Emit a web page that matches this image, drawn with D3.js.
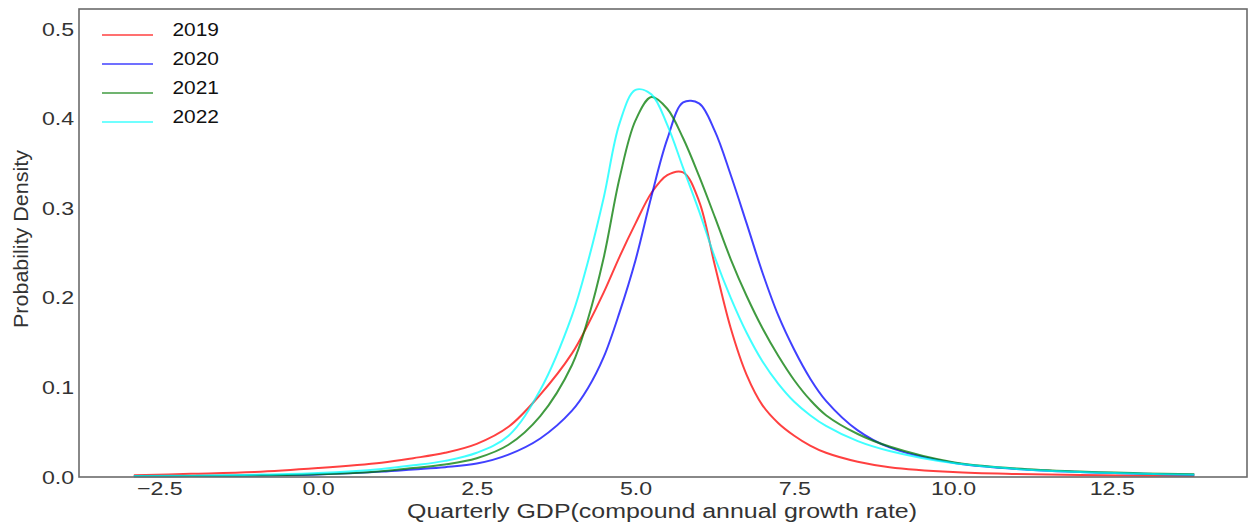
<!DOCTYPE html>
<html>
<head>
<meta charset="utf-8">
<script src="https://cdn.jsdelivr.net/npm/d3@7"></script>
<style>
	body { margin: 0; background: #fff; }
	svg { display: block; font-family: "Liberation Sans", Arial, sans-serif; }
</style>
</head>
<body>
<script>
//growth rate grid (x values)
const xGrid = [-2.9, -2, -1, 0, 1, 1.5, 2, 2.5, 3, 3.5, 4, 4.25, 4.5, 4.75, 5, 5.25, 5.5, 5.75, 6, 6.25, 6.5, 6.75, 7, 7.25, 7.5, 7.75, 8, 8.5, 9, 10, 11, 12, 13, 13.8];

//density values
const y2019 = [0.002, 0.0035, 0.0055, 0.010, 0.016, 0.021, 0.027, 0.037, 0.056, 0.092, 0.138, 0.170, 0.206, 0.246, 0.283, 0.317, 0.337, 0.340, 0.308, 0.236, 0.166, 0.114, 0.080, 0.060, 0.046, 0.035, 0.027, 0.017, 0.011, 0.0055, 0.0033, 0.0022, 0.0015, 0.0012];
const y2020 = [0.0008, 0.001, 0.0016, 0.0028, 0.006, 0.0085, 0.011, 0.015, 0.025, 0.043, 0.074, 0.099, 0.134, 0.184, 0.242, 0.313, 0.377, 0.418, 0.417, 0.386, 0.337, 0.283, 0.228, 0.180, 0.142, 0.110, 0.085, 0.052, 0.033, 0.016, 0.009, 0.0055, 0.0035, 0.0025];
const y2021 = [0.0008, 0.001, 0.0018, 0.003, 0.0065, 0.010, 0.014, 0.021, 0.036, 0.068, 0.125, 0.176, 0.245, 0.334, 0.398, 0.424, 0.411, 0.378, 0.336, 0.290, 0.243, 0.202, 0.166, 0.135, 0.108, 0.086, 0.069, 0.048, 0.034, 0.0165, 0.0095, 0.006, 0.004, 0.003];
const y2022 = [0.001, 0.0015, 0.0025, 0.0045, 0.009, 0.013, 0.018, 0.027, 0.046, 0.097, 0.180, 0.240, 0.312, 0.395, 0.432, 0.427, 0.393, 0.345, 0.297, 0.245, 0.200, 0.161, 0.129, 0.104, 0.084, 0.069, 0.057, 0.040, 0.029, 0.0155, 0.009, 0.0055, 0.0035, 0.0025];

const years = ["2019", "2020", "2021", "2022"];
const colors = ["#ff0000", "#0000ff", "#007a00", "#00ffff"];

const xTicks = [-2.5, 0.0, 2.5, 5.0, 7.5, 10.0, 12.5];
const yTicks = [0.0, 0.1, 0.2, 0.3, 0.4, 0.5];

//margins for graph
const margin = {top: 9, right: 9, bottom: 48, left: 79};
const width = 1256 - margin.left - margin.right;
const height = 525 - margin.top - margin.bottom;

//the reference picture is stretched sideways a little
const stretch = 1.22;

const xScale = d3.scaleLinear().domain([-3.764, 14.63]).range([0, width]);
const yScale = d3.scaleLinear().domain([0, 0.5223]).range([height, 0]);

const svg = d3.select("body")
	.append("svg")
	.attr("width", 1256)
	.attr("height", 525)
	.append("g")
	.attr("transform", "translate(" + margin.left + "," + margin.top + ")");

//curves
const series = [y2019, y2020, y2021, y2022];
const line = d3.line()
	.x((d, i) => xScale(xGrid[i]))
	.y(d => yScale(d))
	.curve(d3.curveCatmullRom.alpha(0.5));

svg.append("g")
	.selectAll("path")
	.data(series)
	.enter().append("path")
	.attr("d", line)
	.attr("fill", "none")
	.attr("stroke", (d, i) => colors[i])
	.attr("stroke-opacity", 0.75)
	.attr("stroke-width", 2);

//frame
svg.append("rect")
	.attr("width", width)
	.attr("height", height)
	.attr("fill", "none")
	.attr("stroke", "#6b6b6b")
	.attr("stroke-width", 1.6);

//axes, tick marks hidden
const xAxis = d3.axisBottom(xScale).tickValues(xTicks).tickSize(0).tickPadding(5).tickFormat(d3.format(".1f"));
const yAxis = d3.axisLeft(yScale).tickValues(yTicks).tickSize(0).tickPadding(4).tickFormat(d3.format(".1f"));

const gx = svg.append("g")
	.attr("transform", "translate(0," + height + ")")
	.call(xAxis);
const gy = svg.append("g").call(yAxis);

[gx, gy].forEach(g => {
	g.select(".domain").remove();
	g.selectAll("text")
		.attr("font-size", 19)
		.attr("font-family", "Liberation Sans, Arial, sans-serif")
		.attr("fill", "#333")
		.attr("transform", "scale(" + stretch + ",1)");
});

//axes text
svg.append("text")
	.attr("transform", "translate(" + (662 - margin.left) + "," + (518 - margin.top) + ")")
	.attr("text-anchor", "middle")
	.attr("font-size", 20)
	.attr("fill", "#333")
	.attr("textLength", 510)
	.attr("lengthAdjust", "spacingAndGlyphs")
	.text("Quarterly GDP(compound annual growth rate)");

svg.append("text")
	.attr("transform", "translate(" + (28 - margin.left) + "," + (239 - margin.top) + ") rotate(-90)")
	.attr("text-anchor", "middle")
	.attr("font-size", 21)
	.attr("fill", "#333")
	.attr("textLength", 178)
	.attr("lengthAdjust", "spacingAndGlyphs")
	.text("Probability Density");

//legend
const legend = svg.append("g")
	.selectAll("g")
	.data(years)
	.enter().append("g")
	.attr("transform", (d, i) => "translate(" + (102 - margin.left) + "," + (35 - margin.top + i * 29) + ")");

legend.append("line")
	.attr("x1", 0)
	.attr("x2", 51)
	.attr("stroke", (d, i) => colors[i])
	.attr("stroke-opacity", 0.75)
	.attr("stroke-width", 1.6);

legend.append("text")
	.attr("x", 64)
	.attr("y", 1)
	.attr("font-size", 19)
	.attr("fill", "#111")
	.attr("transform", "scale(1.1,1)")
	.text(d => d);
</script>
</body>
</html>
